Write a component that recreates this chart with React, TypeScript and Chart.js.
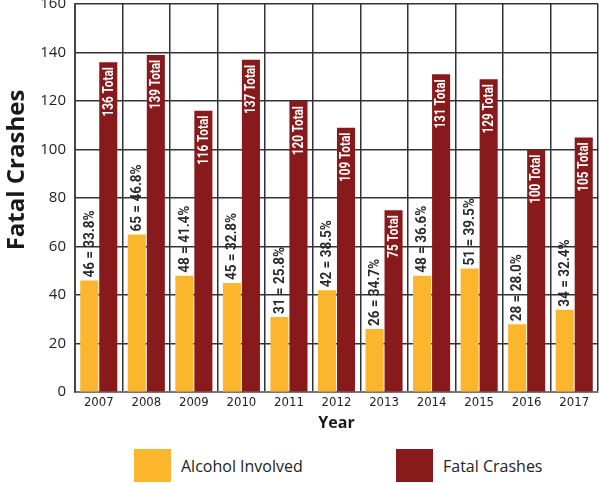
import React, { useEffect, useRef } from "react";
import { Chart, registerables } from "chart.js";

Chart.register(...registerables);

const years = ["2007", "2008", "2009", "2010", "2011", "2012", "2013", "2014", "2015", "2016", "2017"];
const alcoholInvolved = [46, 65, 48, 45, 31, 42, 26, 48, 51, 28, 34];
const alcoholPercent = ["33.8", "46.8", "41.4", "32.8", "25.8", "38.5", "34.7", "36.6", "39.5", "28.0", "32.4"];
const fatalCrashes = [136, 139, 116, 137, 120, 109, 75, 131, 129, 100, 105];
const yTicks = [0, 20, 40, 60, 80, 100, 120, 140, 160];

const YELLOW = "#FBB62E";
const RED = "#891A1C";
const LABEL_FONT = "Roboto, 'Noto Sans', sans-serif";
const SANS = "'Open Sans', 'Noto Sans', sans-serif";

const barLabelPlugin = {
  id: "barLabels",
  afterDatasetsDraw(chart: any) {
    const ctx = chart.ctx;
    const m0 = chart.getDatasetMeta(0);
    const m1 = chart.getDatasetMeta(1);
    ctx.save();
    m0.data.forEach((bar: any, i: number) => {
      ctx.save();
      ctx.translate(bar.x, bar.y - 3);
      ctx.rotate(-Math.PI / 2);
      ctx.scale(0.9, 1);
      ctx.font = `bold 15px ${LABEL_FONT}`;
      ctx.fillStyle = "#2a2a2a";
      ctx.textAlign = "left";
      ctx.textBaseline = "middle";
      ctx.fillText(`${alcoholInvolved[i]} = ${alcoholPercent[i]}%`, 0, 0.5);
      ctx.restore();
    });
    m1.data.forEach((bar: any, i: number) => {
      ctx.save();
      ctx.translate(bar.x, bar.y + 5);
      ctx.rotate(-Math.PI / 2);
      ctx.scale(0.78, 1);
      ctx.font = `bold 15px ${LABEL_FONT}`;
      ctx.fillStyle = "#ffffff";
      ctx.textAlign = "right";
      ctx.textBaseline = "middle";
      ctx.fillText(`${fatalCrashes[i]} Total`, 0, 0.5);
      ctx.restore();
    });
    // y axis title
    ctx.save();
    ctx.translate(17, 184);
    ctx.rotate(-Math.PI / 2);
    ctx.font = `bold 24px ${SANS}`;
    ctx.fillStyle = "#1a1a1a";
    ctx.textAlign = "center";
    ctx.textBaseline = "middle";
    ctx.fillText("Fatal Crashes", 0, 0);
    ctx.restore();
    ctx.restore();
  },
};

export default function App() {
  const ref = useRef<HTMLCanvasElement>(null);
  useEffect(() => {
    if (!ref.current) return;
    const chart = new Chart(ref.current, {
      type: "bar",
      data: {
        labels: years,
        datasets: [
          {
            label: "Alcohol Involved",
            data: alcoholInvolved,
            backgroundColor: YELLOW,
            categoryPercentage: 0.8,
            barPercentage: 0.95,
          },
          {
            label: "Fatal Crashes",
            data: fatalCrashes,
            backgroundColor: RED,
            categoryPercentage: 0.8,
            barPercentage: 0.95,
          },
        ],
      },
      options: {
        animation: false,
        responsive: false,
        maintainAspectRatio: false,
        layout: { padding: { top: 0, right: 1, left: 0, bottom: 0 } },
        plugins: {
          legend: { display: false },
          tooltip: { enabled: false },
        },
        scales: {
          x: {
            grid: {
              display: true,
              offset: true,
              color: "#333",
              lineWidth: 1.5,
              drawTicks: false,
            },
            border: { display: true, color: "#777", width: 2 },
            ticks: {
              color: "#222",
              font: { family: "'DejaVu Sans Condensed', 'DejaVu Sans', sans-serif", size: 13 },
              padding: 3,
            },
            title: {
              display: true,
              text: "Year",
              color: "#1a1a1a",
              font: { family: SANS, size: 16, weight: "bold" },
              padding: { top: 0, bottom: 0 },
            },
          },
          y: {
            min: 0,
            max: 160,
            afterBuildTicks: (scale: any) => {
              scale.ticks = yTicks.map((v) => ({ value: v }));
            },
            afterFit: (scale: any) => {
              scale.width = 75;
            },
            grid: {
              color: "#333",
              lineWidth: 1.5,
              drawTicks: false,
            },
            border: { display: true, color: "#444", width: 2 },
            ticks: {
              color: "#222",
              font: { family: SANS, size: 15 },
              padding: 9,
            },
          },
        },
      },
      plugins: [barLabelPlugin],
    });
    return () => chart.destroy();
  }, []);

  return (
    <div
      style={{
        position: "absolute",
        left: 0,
        top: 0,
        width: 599,
        height: 483,
        overflow: "hidden",
        background: "#fff",
      }}
    >
      <canvas
        ref={ref}
        width={599}
        height={447}
        style={{ position: "absolute", left: 0, top: -14, width: 599, height: 447 }}
      />
      <div style={{ position: "absolute", left: 134, top: 449, width: 37, height: 33, background: YELLOW }} />
      <div
        style={{
          position: "absolute",
          left: 181,
          top: 454,
          fontFamily: SANS,
          fontSize: 16,
          color: "#222",
          lineHeight: "24px",
        }}
      >
        Alcohol Involved
      </div>
      <div style={{ position: "absolute", left: 396, top: 449, width: 37, height: 33, background: RED }} />
      <div
        style={{
          position: "absolute",
          left: 443,
          top: 454,
          fontFamily: SANS,
          fontSize: 16,
          color: "#222",
          lineHeight: "24px",
        }}
      >
        Fatal Crashes
      </div>
    </div>
  );
}
